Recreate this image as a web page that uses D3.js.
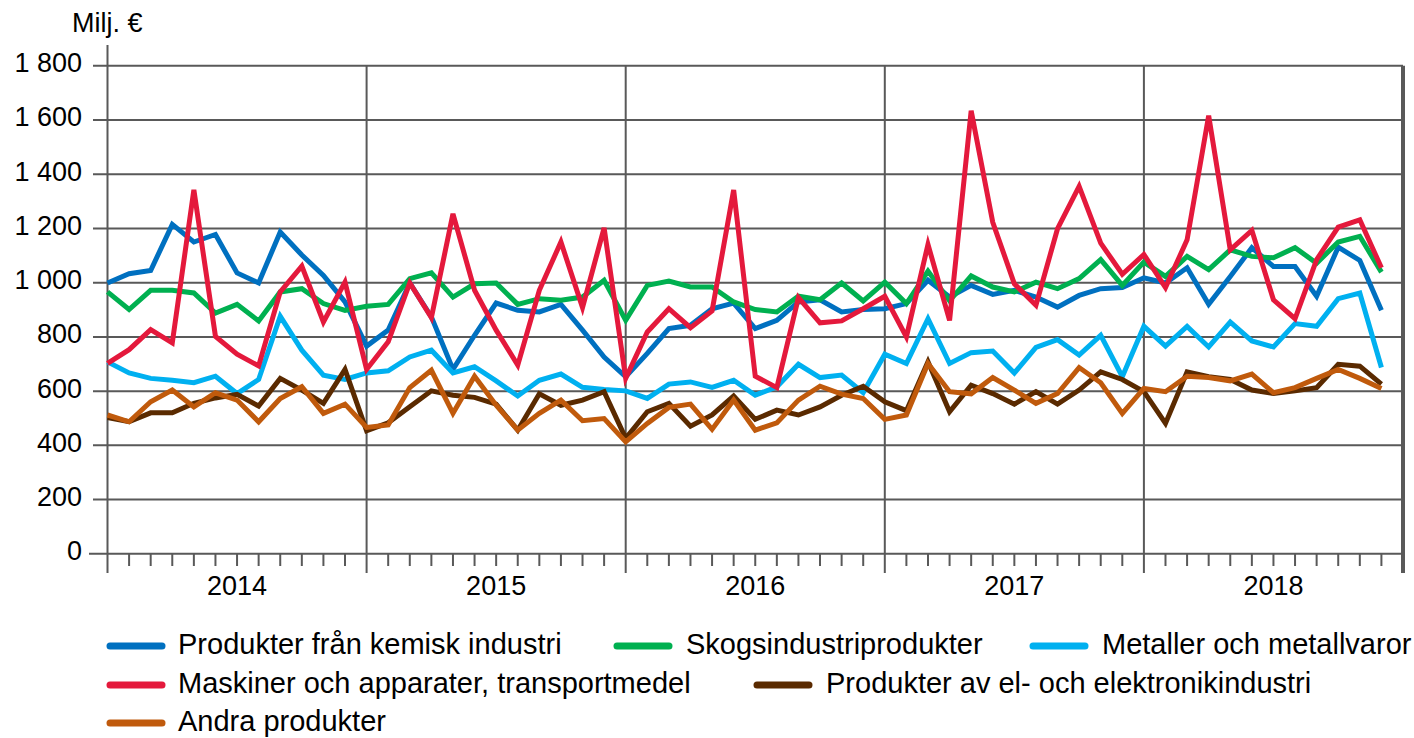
<!DOCTYPE html>
<html>
<head>
<meta charset="utf-8">
<script src="https://cdn.jsdelivr.net/npm/d3@7"></script>
<style>
    body { margin: 0; background: #fff; }
    svg { display: block; font-family: "Liberation Sans", Arial, sans-serif; }
</style>
</head>
<body>
<div id="chart"></div>
<script>
// monthly values, Jan 2014 .. Dec 2018 (Milj. €)
const years = [2014, 2015, 2016, 2017, 2018];
const yTicks = [0, 200, 400, 600, 800, 1000, 1200, 1400, 1600, 1800];

const kemisk = [999,1033,1045,1215,1150,1178,1036,999,1187,1102,1027,929,
    766,825,999,874,680,806,925,898,892,920,825,726,
    653,739,831,843,904,925,831,861,929,937,892,901,
    904,923,1009,947,990,957,972,947,910,953,978,982,
    1018,999,1055,920,1023,1129,1060,1060,950,1131,1082,898];

const skog = [966,901,972,972,962,888,920,859,966,978,923,898,
    913,920,1015,1036,947,996,999,920,941,935,947,1009,
    861,990,1006,984,984,929,901,892,950,937,999,933,
    1002,923,1043,933,1025,984,966,1002,978,1015,1085,990,
    1076,1023,1097,1048,1121,1097,1092,1129,1072,1150,1171,1039];

const metaller = [708,667,647,640,631,655,591,643,876,751,659,643,
    667,675,726,751,667,690,638,582,640,663,614,606,
    601,573,626,634,614,640,585,616,699,650,659,594,
    736,702,867,702,742,748,667,761,790,733,806,653,
    839,766,839,763,855,785,763,849,839,941,962,687];

const maskiner = [702,753,827,778,1342,802,736,693,966,1061,855,1002,
    680,782,999,871,1254,972,825,696,972,1150,908,1202,
    647,818,904,834,896,1342,655,613,945,852,859,904,
    950,800,1141,861,1634,1223,996,917,1199,1355,1146,1031,
    1104,982,1158,1616,1121,1193,937,867,1085,1205,1232,1055];

const elektronik = [503,487,520,520,555,575,588,545,647,604,555,680,
    454,483,542,601,585,577,552,456,590,548,567,598,
    426,524,555,471,512,582,496,530,512,542,585,618,
    561,528,708,524,622,591,552,598,552,604,671,643,
    598,481,671,653,643,604,591,601,613,699,692,626];

const andra = [512,487,561,604,542,594,567,487,573,616,518,552,
    466,475,613,677,518,655,548,456,518,567,491,499,
    413,481,540,552,459,567,456,483,567,618,589,573,
    496,512,702,598,590,650,604,555,591,687,631,518,
    610,598,655,650,638,663,594,613,647,680,647,610];

const seriesNames = ["Produkter från kemisk industri", "Skogsindustriprodukter", "Metaller och metallvaror",
    "Maskiner och apparater, transportmedel", "Produkter av el- och elektronikindustri", "Andra produkter"];
const seriesValues = [kemisk, skog, metaller, maskiner, elektronik, andra];
const seriesColors = ["#0070c0", "#00b050", "#00b0f0", "#e4193c", "#5a2a00", "#c05a0c"];

class LineChart
{
    constructor(_config)
    {
        this.config =
        {
            parentElement: _config.parentElement,
            containerWidth: _config.containerWidth || 1414,
            containerHeight: _config.containerHeight || 738,
            left: 107.5,
            right: 1403,
            top: 65.8,
            bottom: 553.8,
            gridColor: "#595959"
        };
        this.initVis();
    }

    initVis()
    {
        let vis = this;
        const c = vis.config;

        vis.svg = d3.select(c.parentElement).append("svg")
            .attr("width", c.containerWidth)
            .attr("height", c.containerHeight);

        vis.x = d3.scaleLinear().domain([0, years.length * 12]).range([c.left, c.right]);
        vis.y = d3.scaleLinear().domain([0, 1800]).range([c.bottom, c.top]);

        const fmt = d3.formatLocale({decimal: ",", thousands: " ", grouping: [3], currency: ["", " €"]}).format(",");

        // horizontal grid + y ticks
        const grid = vis.svg.append("g");
        grid.selectAll("line.h")
            .data(yTicks)
            .join("line")
            .attr("x1", d => d === 0 ? 89 : 93)
            .attr("x2", c.right)
            .attr("y1", d => vis.y(d))
            .attr("y2", d => vis.y(d))
            .attr("stroke", c.gridColor)
            .attr("stroke-width", 2);

        grid.selectAll("text.yl")
            .data(yTicks)
            .join("text")
            .attr("x", 82)
            .attr("y", d => vis.y(d) - 3)
            .attr("dy", "0.35em")
            .attr("text-anchor", "end")
            .attr("font-size", 27)
            .attr("fill", "#000")
            .text(d => fmt(d));

        // year separators
        const yearEdges = d3.range(years.length + 1).map(i => i * 12);
        grid.selectAll("line.v")
            .data(yearEdges)
            .join("line")
            .attr("x1", d => vis.x(d))
            .attr("x2", d => vis.x(d))
            .attr("y1", d => d === 0 ? 45 : c.top)
            .attr("y2", 573)
            .attr("stroke", c.gridColor)
            .attr("stroke-width", d => d === years.length * 12 ? 4 : 2);

        // month ticks
        const months = d3.range(years.length * 12).filter(m => m % 12 !== 0);
        grid.selectAll("line.m")
            .data(months)
            .join("line")
            .attr("x1", d => vis.x(d))
            .attr("x2", d => vis.x(d))
            .attr("y1", c.bottom)
            .attr("y2", 566)
            .attr("stroke", c.gridColor)
            .attr("stroke-width", 2);

        grid.selectAll("text.year")
            .data(years)
            .join("text")
            .attr("x", (d, i) => vis.x(i * 12 + 6))
            .attr("y", 595)
            .attr("text-anchor", "middle")
            .attr("font-size", 27)
            .text(d => d);

        vis.svg.append("text")
            .attr("x", 72)
            .attr("y", 32)
            .attr("font-size", 27)
            .text("Milj. €");

        // lines
        const line = d3.line()
            .x((d, i) => vis.x(i))
            .y(d => vis.y(d));

        vis.svg.append("g")
            .selectAll("path")
            .data(seriesValues)
            .join("path")
            .attr("d", d => line(d))
            .attr("fill", "none")
            .attr("stroke", (d, i) => seriesColors[i])
            .attr("stroke-width", 5)
            .attr("stroke-linejoin", "miter");

        // legend
        const legendPos = [
            {x: 107, tx: 178, y: 646},
            {x: 614, tx: 686, y: 646},
            {x: 1030, tx: 1102, y: 646},
            {x: 107, tx: 178, y: 685},
            {x: 754, tx: 826, y: 685},
            {x: 107, tx: 178, y: 723}
        ];
        const legend = vis.svg.append("g")
            .selectAll("g")
            .data(seriesNames)
            .join("g");

        legend.append("line")
            .attr("x1", (d, i) => legendPos[i].x + 3)
            .attr("x2", (d, i) => legendPos[i].x + 55)
            .attr("y1", (d, i) => legendPos[i].y)
            .attr("y2", (d, i) => legendPos[i].y)
            .attr("stroke", (d, i) => seriesColors[i])
            .attr("stroke-width", 7)
            .attr("stroke-linecap", "round");

        legend.append("text")
            .attr("x", (d, i) => legendPos[i].tx)
            .attr("y", (d, i) => legendPos[i].y + 8)
            .attr("font-size", 29)
            .text(d => d);
    }
}

new LineChart({parentElement: "#chart"});
</script>
</body>
</html>
